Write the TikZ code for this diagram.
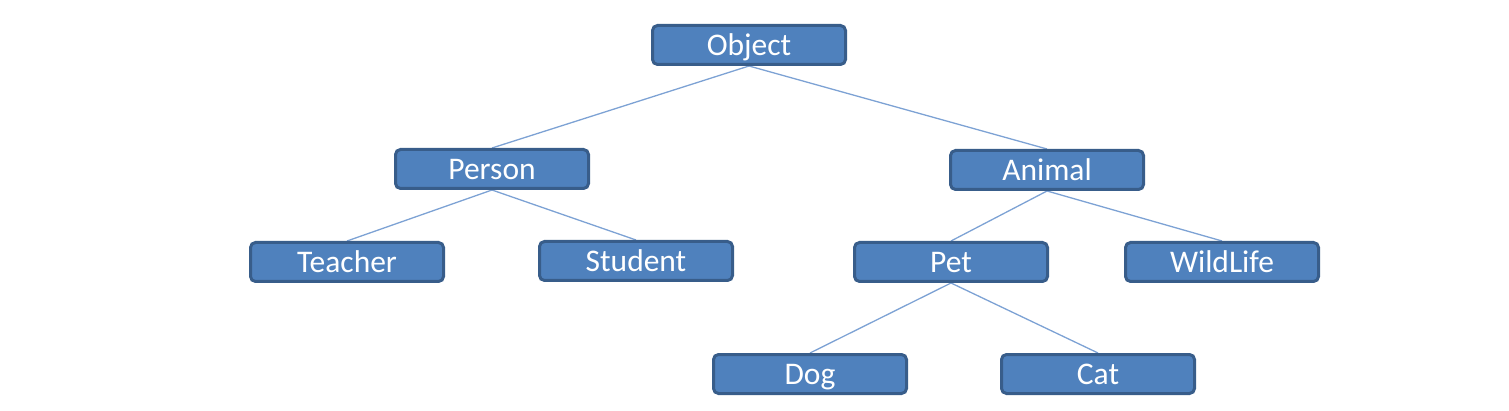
\documentclass[tikz,border=0pt]{standalone}
\usepackage{fontspec}
\setmainfont{Carlito}
\usetikzlibrary{positioning,backgrounds}
\definecolor{boxFill}{HTML}{4F81BD}
\definecolor{boxEdge}{HTML}{385D8A}
\definecolor{treeLine}{HTML}{7DA2D4}
\tikzset{
    classBox/.style={
        rectangle,
        draw=boxEdge,
        fill=boxFill,
        line width=3pt,
        rounded corners=5pt,
        minimum width=193pt,
        minimum height=39pt,
        inner sep=0pt,
        text height=27.7pt,
        text depth=7.4pt,
        text=white,
        font=\fontsize{31.5}{36}\selectfont
    },
    treeEdge/.style={draw=treeLine, line width=1.3pt}
}
\begin{document}
\begin{tikzpicture}[x=1pt, y=-1pt]
\useasboundingbox (0,0) rectangle (1509,411);
% Root
\node[classBox] (object) at (749,45) {Object};

% Second level
\node[classBox] (person) at (492,169) {Person};
\node[classBox] (animal) at (1047,170) {Animal};

% Third level
\node[classBox] (teacher) at (347,262) {Teacher};
\node[classBox] (student) at (636,261) {Student};
\node[classBox] (pet) at (951,262) {Pet};
\node[classBox] (wildlife) at (1222,262) {WildLife};

% Fourth level
\node[classBox] (dog) at (810,374) {Dog};
\node[classBox] (cat) at (1098,374) {Cat};

% Connectors
\begin{scope}[on background layer]
\draw[treeEdge] (object.south) -- (person.north);
\draw[treeEdge] (object.south) -- (animal.north);
\draw[treeEdge] (person.south) -- (teacher.north);
\draw[treeEdge] (person.south) -- (student.north);
\draw[treeEdge] (animal.south) -- (pet.north);
\draw[treeEdge] (animal.south) -- (wildlife.north);
\draw[treeEdge] (pet.south) -- (dog.north);
\draw[treeEdge] (pet.south) -- (cat.north);
\end{scope}
\end{tikzpicture}
\end{document}
